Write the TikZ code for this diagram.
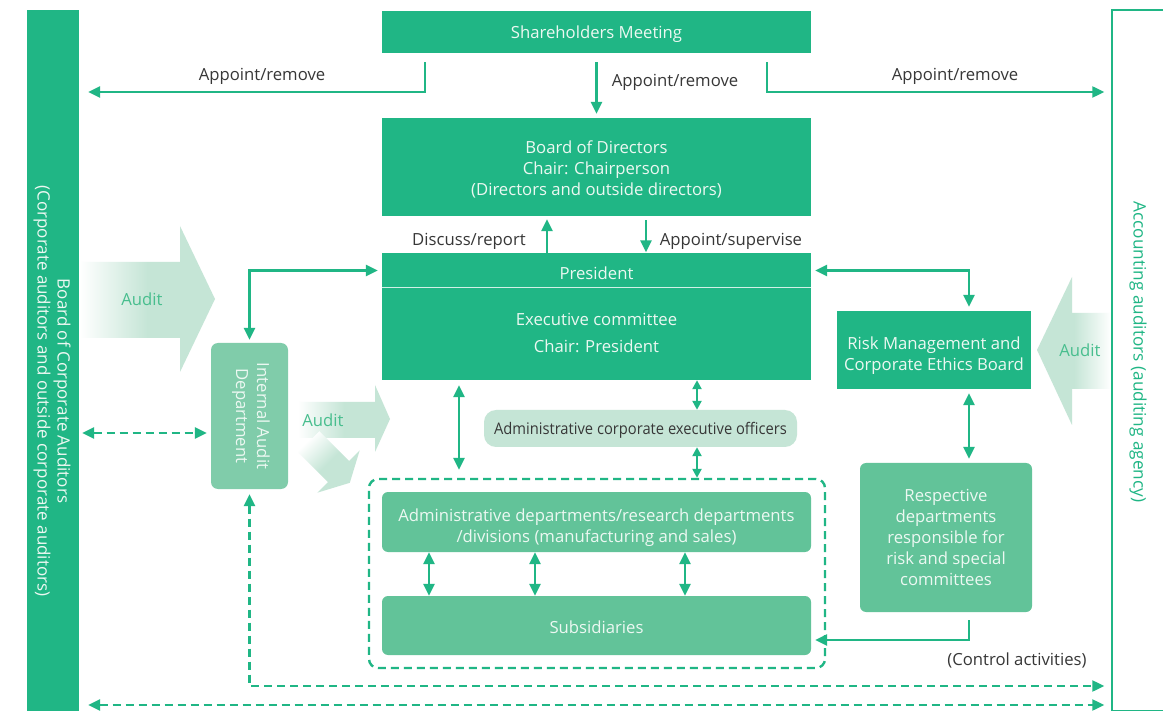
\documentclass[tikz,border=0pt]{standalone}
\usepackage{fontspec}
\setmainfont{Open Sans}
\newfontfamily\condfont[FakeStretch=0.92]{Open Sans}
\usetikzlibrary{arrows.meta}
\definecolor{G}{RGB}{32,182,133}
\definecolor{M}{RGB}{98,195,153}
\definecolor{IA}{RGB}{128,204,170}
\definecolor{LG}{RGB}{197,229,214}
\definecolor{TW}{RGB}{236,248,242}
\definecolor{TD}{RGB}{55,55,55}
\definecolor{AT}{RGB}{72,190,142}
\begin{document}
\begin{tikzpicture}[x=1pt,y=-1pt,
  every node/.style={font=\fontsize{16.7}{21}\selectfont},
  dbox/.style={fill=G, inner sep=0pt},
  mbox/.style={fill=M, rounded corners=6pt, inner sep=0pt},
  btxt/.style={text=TW, inner sep=0pt, align=center},
  lbl/.style={text=TD, inner sep=0pt},
  audit/.style={text=AT, inner sep=0pt},
  arr/.style={draw=G, line width=2.4pt, -{Triangle[length=12pt,width=11pt]}},
  darr/.style={draw=G, line width=2.4pt, {Triangle[length=12pt,width=11pt]}-{Triangle[length=12pt,width=11pt]}},
  sarr/.style={draw=G, line width=2.4pt, {Triangle[length=9pt,width=9pt]}-{Triangle[length=9pt,width=9pt]}},
  dsh/.style={dash pattern=on 8pt off 5pt},
]
\useasboundingbox (0,0) rectangle (1163,711);
\fill[white] (0,0) rectangle (1163,711);

% Audit arrows
\shade[left color=white, right color=LG, middle color=LG] (80,262) -- (180,262) -- (180,226) -- (215,299) -- (180,372) -- (180,338) -- (80,338) -- cycle;
\shade[left color=LG, right color=white, middle color=LG] (1111,313) -- (1072,313) -- (1072,277) -- (1037,350) -- (1072,425) -- (1072,389) -- (1111,389) -- cycle;
\shade[left color=white, right color=LG, middle color=LG] (298,402) -- (375,402) -- (375,385) -- (390,419) -- (375,452) -- (375,438) -- (298,438) -- cycle;
\shade[top color=white, bottom color=LG, middle color=LG, shading angle=45] (319.4,431.2) -- (349.1,460.9) -- (359.7,450.3) -- (349.8,482.8) -- (317.3,492.7) -- (327.9,482.1) -- (298.2,452.4) -- cycle;

% side bars
\node[fill=G, minimum width=52pt, minimum height=701pt, inner sep=0pt] (cba) at (53,360.5) {};
\node[rotate=-90, text=TW, align=center, font=\fontsize{17}{20}\selectfont] (cbat) at (52,391) {Board of Corporate Auditors\\(Corporate auditors and outside corporate auditors)};
\node[draw=G, line width=1.5pt, fill=white, minimum width=53pt, minimum height=701pt, inner sep=0pt] (acc) at (1138.5,360.5) {};
\node[rotate=-90, text=G, font=\fontsize{17.2}{21}\selectfont] (acct) at (1138,352) {Accounting auditors (auditing agency)};

% main boxes
\node[dbox, minimum width=429pt, minimum height=42pt] (sh) at (596.5,32) {};
\node[btxt] (tsh) at (596.5,34) {Shareholders Meeting};
\node[dbox, minimum width=429pt, minimum height=98pt] (bod) at (596.5,167) {};
\node[btxt] (tbod) at (596.5,169.5) {Board of Directors\\Chair: Chairperson\\(Directors and outside directors)};
\node[dbox, minimum width=429pt, minimum height=92pt] (exec) at (596.5,334) {};
\node[btxt] (texec) at (596.5,333) {Executive committee\\[6pt]Chair: President};
\node[dbox, minimum width=429pt, minimum height=34pt] (pres) at (596.5,270.5) {};
\node[btxt] (tpres) at (596.5,273.5) {President};
\draw[white!80!G, line width=1.5pt] (pres.south west) -- (pres.south east);
\node[dbox, minimum width=194pt, minimum height=78pt] (risk) at (934,350) {};
\node[btxt] (trisk) at (934,356) {Risk Management and\\Corporate Ethics Board};
\node[mbox, minimum width=172pt, minimum height=149pt] (resp) at (946,537.5) {};
\node[btxt] (tresp) at (946,537) {Respective\\departments\\responsible for\\risk and special\\committees};
\node[fill=IA, rounded corners=7pt, minimum width=77pt, minimum height=146pt, inner sep=0pt] (ia) at (249.5,416) {};
\node[rotate=-90, btxt] (iat) at (251,416) {Internal Audit\\Department};
\node[fill=LG, rounded corners=12pt, minimum width=313pt, minimum height=37pt, inner sep=0pt] (aceo) at (640.5,428.5) {};
\node[text=TD, inner sep=0pt, font=\condfont\fontsize{16}{20}\selectfont] (taceo) at (640.5,430.5) {Administrative corporate executive officers};
\node[draw=G, dsh, line width=2.4pt, rounded corners=9pt, minimum width=456pt, minimum height=189pt] (grp) at (597,573.5) {};
\node[mbox, minimum width=429pt, minimum height=60pt] (adm) at (596.5,522) {};
\node[btxt] (tadm) at (596.5,527.5) {Administrative departments/research departments\\/divisions (manufacturing and sales)};
\node[mbox, minimum width=429pt, minimum height=59pt] (sub) at (596.5,625.5) {};
\node[btxt] (tsub) at (596.5,627.5) {Subsidiaries};

% labels
\node[lbl] (l1) at (262,76) {Appoint/remove};
\node[lbl] (l2) at (675,82) {Appoint/remove};
\node[lbl] (l3) at (955,76) {Appoint/remove};
\node[lbl] (l4) at (469,241) {Discuss/report};
\node[lbl] (l5) at (731,241) {Appoint/supervise};
\node[lbl] (l6) at (1017,660) {(Control activities)};
\node[audit] (au1) at (142,299) {Audit};
\node[audit] (au2) at (323,420) {Audit};
\node[audit] (au3) at (1080,350) {Audit};

% connectors
\draw[arr, shorten <=9pt, shorten >=9pt] (sh.south -| 425,0) |- (cba.east |- 0,92);
\draw[arr, shorten <=9pt, shorten >=4pt] (sh.south) -- (bod.north);
\draw[arr, shorten <=9pt, shorten >=7pt] (sh.south -| 767,0) |- (acc.west |- 0,92);
\draw[arr, shorten >=3pt] (pres.north -| 547,0) -- (bod.south -| 547,0);
\draw[arr, shorten <=4pt, shorten >=1pt] (bod.south -| 646,0) -- (pres.north -| 646,0);
\draw[darr, shorten <=3pt, shorten >=4pt] (ia.north) |- (pres.west);
\draw[darr, shorten <=4pt, shorten >=4pt] (pres.east) -| (risk.north -| 969,0);
\draw[darr, shorten <=4pt, shorten >=4pt] (risk.south -| 969,0) -- (resp.north -| 969,0);
\draw[arr, shorten <=8pt, shorten >=4pt] (resp.south -| 969,0) |- (sub.east |- 0,640);
\draw[darr, shorten <=5pt, shorten >=8pt] (exec.south -| 459,0) -- (grp.north -| 459,0);
\draw[sarr] (exec.south -| 697,0) -- (aceo.north -| 697,0);
\draw[sarr] (aceo.south -| 697,0) -- (grp.north -| 697,0);
\foreach \x in {429,535,685} \draw[darr] (adm.south -| \x,0) -- (sub.north -| \x,0);
\draw[darr, dsh, shorten <=5pt, shorten >=7pt] (ia.south) |- (acc.west |- 0,686);
\draw[darr, dsh, shorten <=9pt, shorten >=7pt] (cba.east |- 0,705) -- (acc.west |- 0,705);
\draw[darr, dsh, shorten <=3pt, shorten >=4pt] (cba.east |- 0,433) -- (ia.west |- 0,433);
\end{tikzpicture}
\end{document}
